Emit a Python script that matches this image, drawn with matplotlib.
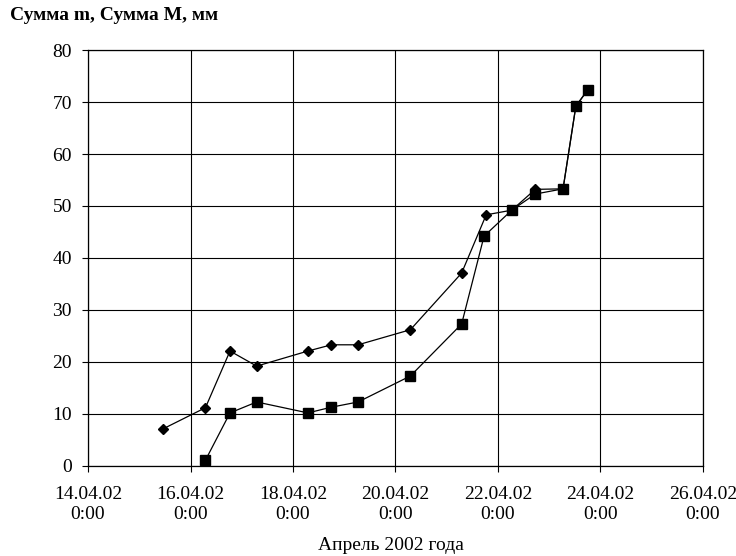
import numpy as np
import pandas as pd
import matplotlib
matplotlib.use("Agg")
import matplotlib.pyplot as plt

plt.rcParams['font.family'] = ['Liberation Serif', 'DejaVu Serif']

# Сумма m (ромбы)
time_m = ["2002-04-15 11:00", "2002-04-16 07:00", "2002-04-16 18:30",
          "2002-04-17 07:00", "2002-04-18 07:00", "2002-04-18 18:00",
          "2002-04-19 06:30", "2002-04-20 07:00", "2002-04-21 07:00",
          "2002-04-21 18:30", "2002-04-22 06:30", "2002-04-22 17:30",
          "2002-04-23 06:30", "2002-04-23 12:30", "2002-04-23 18:00"]
sum_m = [7.1, 11.2, 22.1, 19.2, 22.1, 23.3, 23.3, 26.2, 37.1, 48.3,
         49.2, 53.2, 53.3, 69.2, 72.3]

# Сумма M (квадраты)
time_M = ["2002-04-16 07:00", "2002-04-16 18:30", "2002-04-17 07:00",
          "2002-04-18 07:00", "2002-04-18 18:00", "2002-04-19 06:30",
          "2002-04-20 07:00", "2002-04-21 07:00", "2002-04-21 17:30",
          "2002-04-22 06:30", "2002-04-22 17:30", "2002-04-23 06:30",
          "2002-04-23 12:30", "2002-04-23 18:00"]
sum_M = [1.1, 10.2, 12.3, 10.2, 11.3, 12.3, 17.3, 27.3, 44.2, 49.2,
         52.3, 53.3, 69.2, 72.3]

x_ticks = pd.date_range("2002-04-14", "2002-04-26", freq="2D")

fig = plt.figure(figsize=(7.36, 5.56), dpi=100)
ax = fig.add_axes([0.1196, 0.162, 0.8354, 0.748])

ax.plot(pd.to_datetime(time_m), sum_m, color='black', lw=0.9,
        marker='D', markersize=5.5, zorder=3)
ax.plot(pd.to_datetime(time_M), sum_M, color='black', lw=0.9,
        marker='s', markersize=6.5, zorder=4)

ax.set_xlim(x_ticks[0], x_ticks[-1])
ax.set_ylim(0, 80)
ax.set_yticks(range(0, 81, 10))
ax.set_xticks(x_ticks)
ax.set_xticklabels([d.strftime("%d.%m.%y") + "\n0:00" for d in x_ticks],
                   linespacing=1.2)

ax.grid(True, color='black', lw=0.8)
for s in ax.spines.values():
    s.set_linewidth(0.9)
ax.tick_params(direction='out', length=4.5, width=0.8, labelsize=14)
ax.tick_params(axis='y', pad=7)
ax.tick_params(axis='x', pad=10)

fig.text(0.013, 0.973, "Сумма m, Сумма M, мм", fontsize=14,
         fontweight='bold', ha='left', va='center')
fig.text(0.531, 0.018, "Апрель 2002 года", fontsize=14,
         ha='center', va='center')

fig.savefig("out.png", dpi=100)
